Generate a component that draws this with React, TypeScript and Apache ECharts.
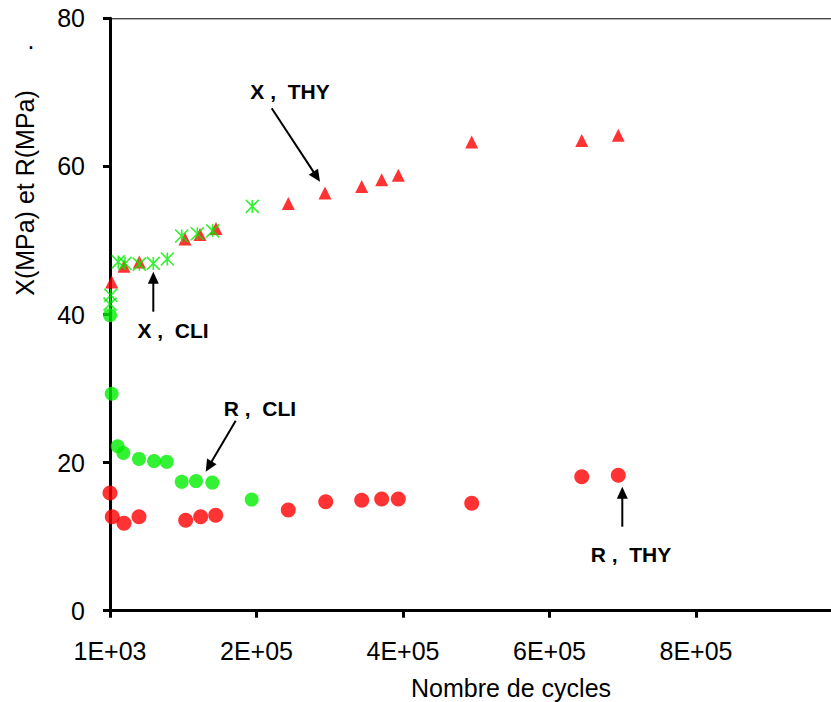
import React, { useEffect, useRef } from "react";
import * as echarts from "echarts";

// ---- data ----
const xCliCycles = [1000, 2000, 12300, 21500, 41000, 60100, 79200, 98900, 120200, 141200, 195300];
const xCliValues = [41.4, 42.6, 47.1, 46.9, 46.8, 46.9, 47.5, 50.6, 50.9, 51.3, 54.6];

const xThyCycles = [3300, 20100, 41000, 103400, 123900, 145700, 244400, 294500, 344600, 371900, 394600, 494800, 645000, 694900];
const xThyValues = [44.4, 46.5, 47.1, 50.2, 50.8, 51.6, 55.0, 56.4, 57.3, 58.2, 58.8, 63.3, 63.5, 64.2];

const rCliCycles = [1000, 3300, 11500, 19200, 40600, 61100, 78400, 98900, 118400, 140700, 194400];
const rCliValues = [39.9, 29.3, 22.2, 21.3, 20.5, 20.2, 20.1, 17.4, 17.5, 17.3, 15.0];

const rThyCycles = [1000, 4100, 20100, 40600, 104300, 124800, 145300, 244400, 295500, 344600, 371900, 394600, 494800, 645000, 694900];
const rThyValues = [15.9, 12.7, 11.8, 12.7, 12.2, 12.7, 12.9, 13.6, 14.7, 14.9, 15.1, 15.1, 14.5, 18.1, 18.3];

const xTickValues = [1000, 201000, 401000, 601000, 801000];
const xTickLabels = ["1E+03", "2E+05", "4E+05", "6E+05", "8E+05"];

const xTitle = "Nombre de cycles";
const yTitle = "X(MPa) et R(MPa)";

const FONT = "'Liberation Sans', Arial, sans-serif";

function zip(xs: number[], ys: number[]) {
  return xs.map((x, i) => [x, ys[i]]);
}

function arrow(x1: number, y1: number, x2: number, y2: number) {
  const len = 12;
  const half = 5.5;
  const dx = x2 - x1;
  const dy = y2 - y1;
  const d = Math.sqrt(dx * dx + dy * dy);
  const ux = dx / d;
  const uy = dy / d;
  const bx = x2 - ux * len;
  const by = y2 - uy * len;
  const px = -uy;
  const py = ux;
  return [
    {
      type: "line",
      shape: { x1, y1, x2: bx + ux * 2, y2: by + uy * 2 },
      style: { stroke: "#000", lineWidth: 2 },
      silent: true,
    },
    {
      type: "polygon",
      shape: {
        points: [
          [x2, y2],
          [bx + px * half, by + py * half],
          [bx - px * half, by - py * half],
        ],
      },
      style: { fill: "#000" },
      silent: true,
    },
  ];
}

function label(text: string, x: number, y: number) {
  return {
    type: "text",
    x,
    y,
    style: {
      text,
      fill: "#000",
      font: `bold 21px ${FONT}`,
      textAlign: "center",
      textVerticalAlign: "middle",
    },
    silent: true,
  };
}

const STAR = "path://M0,0L10,10M10,0L0,10M5,0L5,10";

export default function App() {
  const ref = useRef<HTMLDivElement>(null);

  useEffect(() => {
    document.body.style.margin = "0";
    if (!ref.current) return;
    const chart = echarts.init(ref.current, null, { renderer: "svg" });

    const option: any = {
      animation: false,
      backgroundColor: "#fff",
      grid: {
        left: 110,
        right: 0,
        top: 18.3,
        bottom: 91.3,
        show: false,
        outerBoundsMode: "none",
      },
      xAxis: {
        type: "value",
        min: 1000,
        max: 985300,
        interval: 200000,
        splitLine: { show: false },
        axisLine: { show: true, lineStyle: { color: "#000", width: 3 } },
        axisTick: { show: true, inside: false, length: 7, lineStyle: { color: "#000", width: 3 } },
        axisLabel: {
          color: "#000",
          fontSize: 25,
          fontFamily: FONT,
          margin: 28,
          showMaxLabel: false,
          formatter: (v: number) => {
            const i = xTickValues.indexOf(Math.round(v));
            return i >= 0 ? xTickLabels[i] : "";
          },
        },
      },
      yAxis: {
        type: "value",
        min: 0,
        max: 80,
        interval: 20,
        splitLine: { show: false },
        axisLine: { show: true, lineStyle: { color: "#000", width: 3 } },
        axisTick: { show: true, inside: false, length: 7, lineStyle: { color: "#000", width: 3 } },
        axisLabel: { color: "#000", fontSize: 25, fontFamily: FONT, margin: 25 },
      },
      series: [
        {
          name: "R, THY",
          type: "scatter",
          clip: false,
          symbol: "circle",
          symbolSize: 15,
          itemStyle: { color: "#ff0000" },
          data: zip(rThyCycles, rThyValues),
        },
        {
          name: "R, CLI",
          type: "scatter",
          clip: false,
          symbol: "circle",
          symbolSize: 14,
          itemStyle: { color: "#00ee00" },
          data: zip(rCliCycles, rCliValues),
        },
        {
          name: "X, THY",
          type: "scatter",
          clip: false,
          symbol: "triangle",
          symbolSize: [13, 13],
          itemStyle: { color: "#ff0000" },
          data: zip(xThyCycles, xThyValues),
        },
        {
          name: "X, CLI",
          type: "scatter",
          clip: false,
          symbol: STAR,
          symbolSize: 13,
          itemStyle: { color: "rgba(0,0,0,0)", borderColor: "#00ee00", borderWidth: 1.6 },
          data: zip(xCliCycles, xCliValues),
        },
      ],
      graphic: [
        {
          type: "line",
          shape: { x1: 110, y1: 18.8, x2: 831, y2: 18.8 },
          style: { stroke: "#000", lineWidth: 1 },
          silent: true,
        },
        {
          type: "text",
          x: 25,
          y: 193,
          rotation: Math.PI / 2,
          style: {
            text: yTitle,
            fill: "#000",
            font: `25px ${FONT}`,
            textAlign: "center",
            textVerticalAlign: "middle",
          },
          silent: true,
        },
        {
          type: "text",
          x: 31,
          y: 40,
          style: {
            text: ".",
            fill: "#000",
            font: `25px ${FONT}`,
            textAlign: "center",
            textVerticalAlign: "middle",
          },
          silent: true,
        },
        {
          type: "text",
          x: 511,
          y: 688,
          style: {
            text: xTitle,
            fill: "#000",
            font: `25px ${FONT}`,
            textAlign: "center",
            textVerticalAlign: "middle",
          },
          silent: true,
        },
        label("X ,  THY", 290, 91),
        label("X ,  CLI", 173, 330),
        label("R ,  CLI", 260, 408),
        label("R ,  THY", 631, 554),
        ...arrow(271.7, 108.3, 320, 181.7),
        ...arrow(153.3, 311.7, 153.3, 271.7),
        ...arrow(235.7, 420.7, 205.7, 471.7),
        ...arrow(622.3, 526.7, 622.3, 486.7),
      ],
    };

    chart.setOption(option);
    return () => chart.dispose();
  }, []);

  return <div ref={ref} style={{ width: 831, height: 702 }} />;
}
